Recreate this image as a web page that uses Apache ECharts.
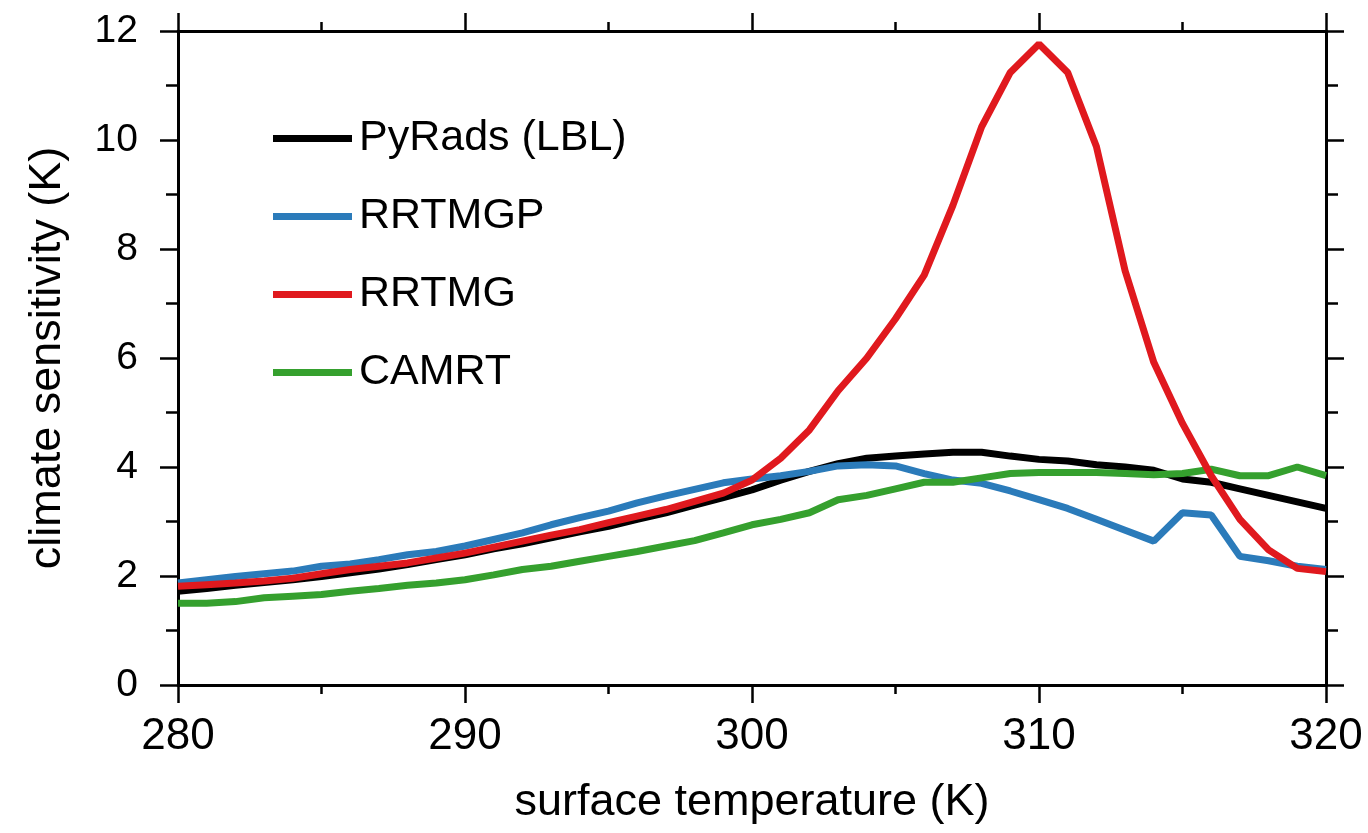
<!DOCTYPE html>
<html>
<head>
<meta charset="utf-8">
<script src="https://cdn.jsdelivr.net/npm/echarts@6/dist/echarts.min.js"></script>
<style>
html,body{margin:0;padding:0;background:#fff;}
#chart{width:1368px;height:833px;}
</style>
</head>
<body>
<div id="chart"></div>
<script>
const temps = [280,281,282,283,284,285,286,287,288,289,290,291,292,293,294,295,296,297,298,299,300,
               301,302,303,304,305,306,307,308,309,310,311,312,313,314,315,316,317,318,319,320];
const pyrads = [1.72,1.77,1.83,1.88,1.93,1.99,2.06,2.13,2.21,2.30,2.39,2.50,2.59,2.70,2.81,2.91,3.04,3.16,3.30,3.44,3.58,
                3.76,3.92,4.06,4.16,4.20,4.24,4.27,4.27,4.20,4.14,4.11,4.04,4.00,3.94,3.78,3.72,3.60,3.48,3.36,3.24];
const rrtmgp = [1.87,1.93,1.99,2.04,2.09,2.18,2.22,2.30,2.39,2.45,2.55,2.67,2.79,2.94,3.07,3.19,3.34,3.47,3.59,3.71,3.78,
                3.84,3.92,4.02,4.04,4.02,3.88,3.76,3.70,3.56,3.40,3.24,3.04,2.84,2.64,3.16,3.12,2.36,2.28,2.18,2.12];
const rrtmg  = [1.81,1.84,1.87,1.91,1.96,2.04,2.12,2.18,2.24,2.33,2.42,2.53,2.64,2.75,2.85,2.98,3.10,3.22,3.37,3.52,3.76,
                4.16,4.68,5.40,6.00,6.72,7.52,8.80,10.24,11.24,11.76,11.24,9.88,7.60,5.92,4.80,3.84,3.04,2.48,2.14,2.08];
const camrt  = [1.50,1.50,1.53,1.60,1.63,1.66,1.72,1.77,1.83,1.87,1.93,2.02,2.12,2.18,2.27,2.36,2.45,2.55,2.65,2.79,2.94,
                3.04,3.16,3.40,3.48,3.60,3.72,3.72,3.80,3.88,3.90,3.90,3.90,3.88,3.86,3.88,3.96,3.84,3.84,4.00,3.84];
const seriesNames = ['PyRads (LBL)','RRTMGP','RRTMG','CAMRT'];
const seriesColors = ['#000000','#2b7bba','#e0191e','#35a02e'];
const xTicks = [280,290,300,310,320];
const yTicks = [0,2,4,6,8,10,12];

const FONT = '"Liberation Sans", Arial, Helvetica, sans-serif';
const chart = echarts.init(document.getElementById('chart'));
const values = [pyrads, rrtmgp, rrtmg, camrt];
const pairs = v => temps.map((t,i)=>[t, v[i]]);
const axisLine = {show:true, onZero:false, lineStyle:{color:'#000', width:3}};

const xBase = {
  type:'value', min:xTicks[0], max:xTicks[xTicks.length-1], interval:xTicks[1]-xTicks[0],
  axisLine: axisLine,
  axisTick:{show:true, inside:false, length:18, lineStyle:{color:'#000', width:2.5}},
  minorTick:{show:true, splitNumber:2, length:9, lineStyle:{color:'#000', width:2.5}},
  splitLine:{show:false}, minorSplitLine:{show:false}
};
const yBase = {
  type:'value', min:yTicks[0], max:yTicks[yTicks.length-1], interval:yTicks[1]-yTicks[0],
  axisLine: axisLine,
  axisTick:{show:true, inside:false, length:18, lineStyle:{color:'#000', width:2.5}},
  minorTick:{show:true, splitNumber:2, length:12, lineStyle:{color:'#000', width:2.5}},
  splitLine:{show:false}, minorSplitLine:{show:false}
};

chart.setOption({
  backgroundColor:'#fff',
  animation:false,
  grid:{left:178, right:42, top:31, bottom:148},
  legend:{
    show:true, orient:'vertical', left:268, top:112,
    itemWidth:79, itemHeight:7, itemGap:35, icon:'rect',
    textStyle:{fontFamily:FONT, fontSize:43, color:'#000', padding:[0,0,0,2]},
    data: seriesNames
  },
  xAxis:[
    Object.assign({}, xBase, {
      position:'bottom',
      name:'surface temperature (K)', nameLocation:'middle', nameGap:95,
      nameTextStyle:{fontFamily:FONT, fontSize:45, color:'#000'},
      axisLabel:{show:true, margin:30, fontFamily:FONT, fontSize:44, color:'#000'}
    }),
    Object.assign({}, xBase, {position:'top', axisLabel:{show:false}})
  ],
  yAxis:[
    Object.assign({}, yBase, {
      position:'left',
      name:'climate sensitivity (K)', nameLocation:'middle', nameGap:108,
      nameTextStyle:{fontFamily:FONT, fontSize:45, color:'#000'},
      axisLabel:{show:true, margin:40, fontFamily:FONT, fontSize:39, color:'#000'}
    }),
    Object.assign({}, yBase, {position:'right', axisLabel:{show:false}})
  ],
  series: seriesNames.map((n,i)=>({
    name:n, type:'line', xAxisIndex:0, yAxisIndex:0,
    data: pairs(values[i]),
    showSymbol:false, symbol:'none',
    lineStyle:{color:seriesColors[i], width:7},
    itemStyle:{color:seriesColors[i]},
    z: i===2 ? 5 : 3
  }))
});
</script>
</body>
</html>
